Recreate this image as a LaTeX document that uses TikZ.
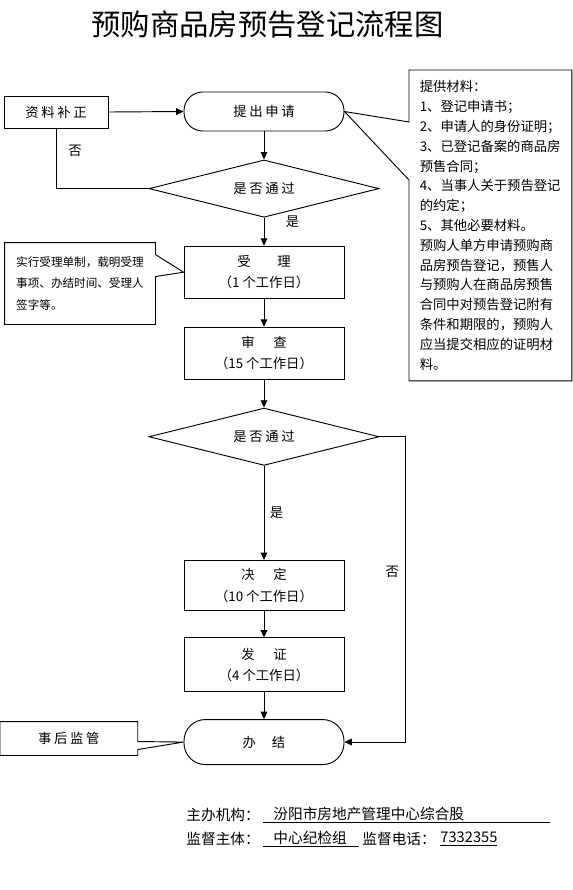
\documentclass[tikz,border=0pt]{standalone}
\usepackage{fontspec}
\setmainfont{Noto Sans CJK SC}
\newfontfamily\widefont[LetterSpace=20]{Noto Sans CJK SC}
\usetikzlibrary{arrows.meta,positioning,shapes.geometric,calc}
\tikzset{
  flowbox/.style={rectangle, draw, minimum width=120pt, minimum height=39pt,
                  font=\fontsize{10}{16}\selectfont, align=center, inner sep=0pt},
  endbox/.style={rectangle, rounded corners=14pt, draw, minimum width=120pt,
                 minimum height=29.25pt, font=\widefont\fontsize{10}{12}\selectfont, inner sep=0pt},
  check/.style={diamond, aspect=4, draw, minimum width=172.5pt, minimum height=43pt,
                font=\widefont\fontsize{10}{12}\selectfont, inner sep=0pt},
  note/.style={font=\fontsize{8.7}{16}\selectfont, align=left, inner sep=0pt},
  arr/.style={-{Triangle[length=5.5pt,width=5pt]}},
  lbl/.style={font=\fontsize{10}{12}\selectfont, inner sep=0pt},
  foot/.style={font=\fontsize{11}{13}\selectfont, inner sep=0pt, anchor=west},
}
\begin{document}
\begin{tikzpicture}[x=0.75pt, y=-0.75pt, line width=0.7pt, node distance=21pt]
  \useasboundingbox (0,0) rectangle (573,890);

  % title
  \node[font=\fontsize{22}{24}\selectfont] (title) at (267.5,24) {预购商品房预告登记流程图};

  % main column
  \node[endbox] (apply) at (264,111.5) {提出申请};
  \node[check, below=of apply] (pass1) {是否通过};
  \node[flowbox, below=of pass1] (accept) {受\hspace{2em}理\\（1 个工作日）};
  \node[flowbox, below=of accept] (review) {审\hspace{1.4em}查\\（15 个工作日）};
  \node[check, below=of review] (pass2) {是否通过};
  \node[flowbox, minimum height=37.5pt, below=70.5pt of pass2] (decide) {决\hspace{1.4em}定\\（10 个工作日）};
  \node[flowbox, minimum height=40.5pt, below=20pt of decide] (issue) {发\hspace{1.4em}证\\（4 个工作日）};
  \node[endbox, minimum height=33.75pt, rounded corners=16pt, below=20pt of issue] (done) {办\hspace{1.2em}结};

  % side boxes
  \node[flowbox, minimum width=78pt, minimum height=24pt, font=\widefont\fontsize{10}{12}\selectfont] (fix) at (56,112) {资料补正};
  \node[note, minimum width=112.5pt, minimum height=60.75pt] (acnote) at (80,283.5)
       {实行受理单制，载明受理\\事项、办结时间、受理人\\签字等。};
  \node[note, minimum width=102.75pt, minimum height=24.75pt, font=\widefont\fontsize{10}{12}\selectfont] (supv) at (68.75,738.5) {事后监管};
  \node[note, font=\fontsize{10}{14.85}\selectfont, text width=106pt, minimum width=121.5pt,
        minimum height=232.5pt, anchor=north west] (mat) at (409,70)
       {提供材料：\\1、登记申请书；\\2、申请人的身份证明；\\3、已登记备案的商品房\\预售合同；\\4、当事人关于预告登记\\的约定；\\5、其他必要材料。\\预购人单方申请预购商\\品房预告登记，预售人\\与预购人在商品房预售\\合同中对预告登记附有\\条件和期限的，预购人\\应当提交相应的证明材\\料。};

  % callout frames
  \draw (mat.north west) -- (mat.north east) -- (mat.south east) -- (mat.south west)
        -- ($(mat.north west)+(0,110)$) -- (apply.east) -- ($(mat.north west)+(0,52)$) -- cycle;
  \draw (acnote.north west) -- (acnote.north east) -- ($(acnote.north east)+(0,12)$) -- (accept.west)
        -- ($(acnote.north east)+(0,34)$) -- (acnote.south east) -- (acnote.south west) -- cycle;
  \draw (supv.north west) -- (supv.north east) -- ($(supv.north east)+(0,20)$) -- (done.west)
        -- ($(supv.north east)+(0,28)$) -- (supv.south east) -- (supv.south west) -- cycle;

  % flow arrows
  \draw[arr] (fix.east) -- (apply.west);
  \draw[arr] (apply) -- (pass1);
  \draw (pass1.west) -| (fix.south) node[lbl, pos=0.815, right=9pt] {否};
  \draw[arr] (pass1) -- node[lbl, pos=0.15, right=16pt] {是} (accept);
  \draw[arr] (accept) -- (review);
  \draw[arr] (review) -- (pass2);
  \draw[arr] (pass2) -- node[lbl, right=4pt] {是} (decide);
  \draw[arr] (decide) -- (issue);
  \draw[arr] (issue) -- (done);
  \draw[arr] (pass2.east) -- ++(26,0) |- node[lbl, pos=0.222, left=4.5pt] {否} (done.east);

  % footer
  \node[foot] (orglbl) at (186,815) {主办机构：};
  \node[foot] (org) at (263,815) {\underline{\makebox[215pt][l]{\hspace{7.5pt}汾阳市房地产管理中心综合股}}};
  \node[foot] (suplbl) at (186,839) {监督主体：};
  \node[foot] (sup) at (263,839) {\underline{\makebox[72pt][l]{\hspace{7.5pt}中心纪检组}}};
  \node[foot] (tellbl) at (362,839) {监督电话：};
  \node[foot] (tel) at (440,839) {\underline{7332355}};
\end{tikzpicture}
\end{document}
